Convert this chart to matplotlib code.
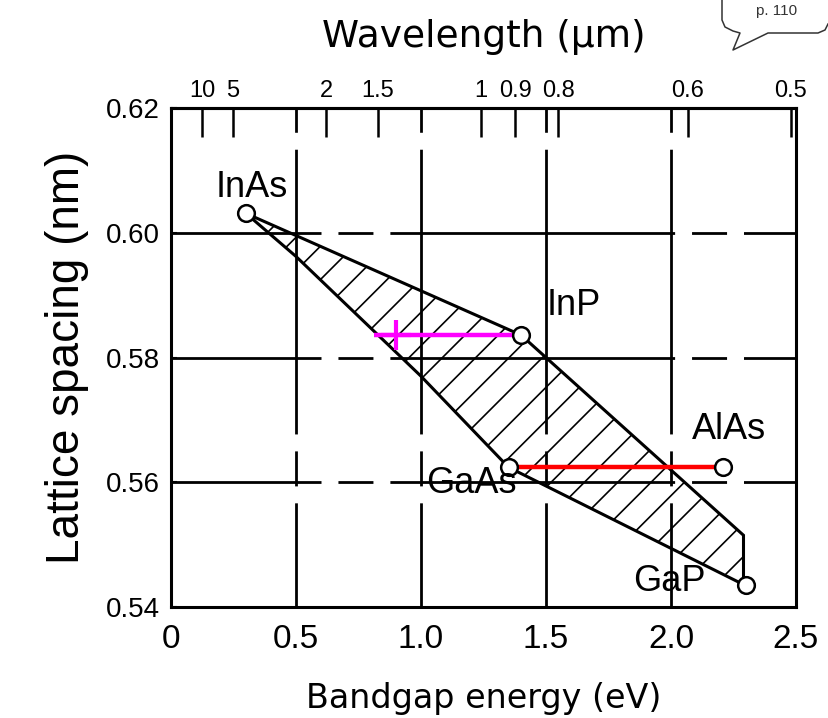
import numpy as np
import matplotlib.pyplot as plt

plt.rcParams['lines.scale_dashes'] = False
plt.rcParams['hatch.linewidth'] = 1.2
plt.rcParams['font.family'] = ['Liberation Sans', 'DejaVu Sans']

# compound end points (bandgap eV, lattice nm)
materials = ['InAs', 'InP', 'AlAs', 'GaAs', 'GaP']
bandgap = [0.30, 1.40, 2.21, 1.35, 2.30]
lattice = [0.6031, 0.5836, 0.5624, 0.5624, 0.5436]

# outline of the hatched alloy region
region_E = [0.30, 1.40, 2.29, 2.29, 1.35, 1.00, 0.50]
region_a = [0.6031, 0.5836, 0.5515, 0.5436, 0.5624, 0.5770, 0.5962]

# magenta line with cross, red line
magenta_E = [0.81, 1.40]
magenta_a = [0.5836, 0.5836]
cross_E = [0.90]
cross_a = [0.5836]
red_E = [1.35, 2.21]
red_a = [0.5624, 0.5624]

energy_ticks = [0, 0.5, 1.0, 1.5, 2.0, 2.5]
energy_labels = ['0', '0.5', '1.0', '1.5', '2.0', '2.5']
lattice_ticks = [0.54, 0.56, 0.58, 0.60, 0.62]
lattice_labels = ['0.54', '0.56', '0.58', '0.60', '0.62']
wavelength_ticks = [10, 5, 2, 1.5, 1, 0.9, 0.8, 0.6, 0.5]
wavelength_labels = ['10', '5', '2', '1.5', '1', '0.9', '0.8', '0.6', '0.5']

# label offsets (points) from each circle
label_offsets = {'InAs': (4, 19), 'InP': (38, 21), 'AlAs': (4, 27),
                 'GaAs': (-27, -12), 'GaP': (-55, 2)}

fig = plt.figure(figsize=(8.29, 7.18), dpi=100)
ax = fig.add_axes([171 / 829, 1 - 607 / 718, 625 / 829, 499 / 718])

# hand-drawn style long dashes
dash = (205, 12.2, 25.2, 12.2)
ax.set_xticks(energy_ticks, labels=energy_labels)
ax.set_yticks(lattice_ticks, labels=lattice_labels)
ax.xaxis.grid(True, color='black', lw=2.0, linestyle=(130, dash))
ax.yaxis.grid(True, color='black', lw=2.0, linestyle=(97, dash))
ax.set_axisbelow(True)

ax.fill(region_E, region_a, facecolor='none', edgecolor='black', lw=2.2,
        hatch='/', zorder=3)

ax.plot(magenta_E, magenta_a, color='magenta', lw=3.2, zorder=4, solid_capstyle='butt')
ax.plot(cross_E, cross_a, '+', color='magenta', ms=21, mew=3, zorder=4)
ax.plot(red_E, red_a, color='red', lw=3.2, zorder=4, solid_capstyle='butt')

ax.plot(bandgap, lattice, 'o', ls='none', ms=12, mfc='white', mec='black',
        mew=1.8, zorder=5)
for name, e, a in zip(materials, bandgap, lattice):
    ax.annotate(name, (e, a), xytext=label_offsets[name], textcoords='offset points',
                ha='center', va='center', fontsize=26, zorder=6)

ax.set_xlim(0, 2.5)
ax.set_ylim(0.54, 0.62)
for s in ax.spines.values():
    s.set_linewidth(2.2)

ax.tick_params(axis='x', length=0, pad=12, labelsize=24)
ax.tick_params(axis='y', direction='in', length=4, width=1.5, pad=8, labelsize=20)

ax.set_xlabel('Bandgap energy (eV)', fontsize=24, family='DejaVu Sans', labelpad=20)
ax.set_ylabel('Lattice spacing (nm)', fontsize=33, labelpad=12)


def e_to_wl(e):
    e = np.asarray(e, dtype=float)
    return 1.24 / np.where(np.abs(e) < 1e-9, 1e-9, e)


secax = ax.secondary_xaxis('top', functions=(e_to_wl, e_to_wl))
secax.set_xticks(wavelength_ticks, labels=wavelength_labels)
secax.tick_params(direction='in', length=21, width=1.8, pad=4, labelsize=17)
secax.spines['top'].set_linewidth(2.2)
secax.set_xlabel('Wavelength (\u03bcm)', fontsize=27, family='DejaVu Sans', labelpad=24)

# page note bubble in the corner
bx = [722, 722, 725, 733, 740, 733, 768, 818, 825, 828]
by = [-5, 20, 27, 31, 33, 50, 33, 33, 30, 24]
fig.add_artist(plt.Line2D([x / 829 for x in bx], [1 - y / 718 for y in by],
                          color='#333333', lw=1.1))
fig.text(777 / 829, 1 - 15 / 718, 'p. 110', ha='center', va='baseline',
         fontsize=11, color='#333333')

fig.savefig('out.png', dpi=100)
